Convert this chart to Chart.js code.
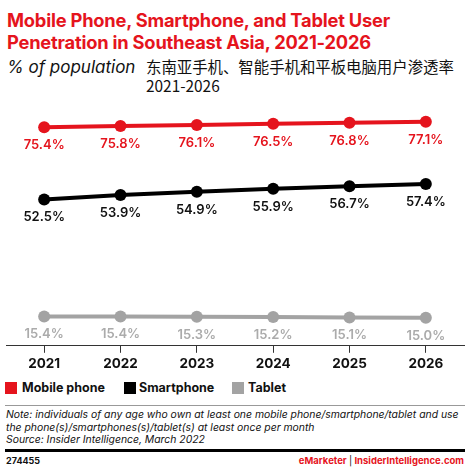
<!DOCTYPE html>
<html><head><meta charset="utf-8">
<script src="https://cdn.jsdelivr.net/npm/chart.js@4/dist/chart.umd.min.js"></script>
<style>
html,body{margin:0;padding:0;background:#fff;}
body{width:470px;height:471px;position:relative;overflow:hidden;font-family:Inter,"Noto Sans",sans-serif;}
.t{position:absolute;white-space:nowrap;}
#title{left:7px;top:9px;color:#e5141d;font-weight:700;font-size:18.3px;line-height:22px;letter-spacing:-0.2px;}
#sub{left:7px;top:57px;font-style:italic;font-size:17px;color:#111;}
#cn{left:146px;top:57px;font-family:"Noto Sans CJK SC",sans-serif;font-size:15.4px;line-height:19px;color:#111;}
#chartWrap{position:absolute;left:0;top:95px;width:470px;height:280px;}
.lg{position:absolute;top:382px;width:12px;height:12px;}
.lt{position:absolute;top:379.5px;font-size:12.5px;font-weight:700;color:#111;}
#hr1{position:absolute;left:5px;right:5px;top:405px;height:1px;background:#999;}
#note{left:6px;top:409px;font-style:italic;font-size:10.4px;line-height:12.6px;color:#111;}
#hr2{position:absolute;left:5px;right:5px;top:449px;height:3px;background:#000;}
#id{left:6px;top:455px;font-size:9px;font-weight:700;color:#111;}
#brand{right:6px;top:455px;font-size:9.5px;font-weight:700;color:#e5141d;}
</style></head>
<body>
<div class="t" id="title">Mobile Phone, Smartphone, and Tablet User<br>Penetration in Southeast Asia, 2021-2026</div>
<div class="t" id="sub">% of population</div>
<div class="t" id="cn">东南亚手机、智能手机和平板电脑用户渗透率<br>2021-2026</div>
<div id="chartWrap"><canvas id="c"></canvas></div>
<div class="lg" style="left:5px;background:#e5141d"></div><div class="t lt" style="left:22px">Mobile phone</div>
<div class="lg" style="left:124px;background:#000"></div><div class="t lt" style="left:139px">Smartphone</div>
<div class="lg" style="left:232px;background:#a3a3a3"></div><div class="t lt" style="left:248px">Tablet</div>
<div id="hr1"></div>
<div class="t" id="note">Note: individuals of any age who own at least one mobile phone/smartphone/tablet and use<br>the phone(s)/smartphones(s)/tablet(s) at least once per month<br>Source: Insider Intelligence, March 2022</div>
<div id="hr2"></div>
<div class="t" id="id">274455</div>
<div class="t" id="brand">eMarketer <span style="color:#111;font-weight:400">|</span> InsiderIntelligence.com</div>
<script>
const years = ["2021","2022","2023","2024","2025","2026"];
const mobilePhone = [75.4, 75.8, 76.1, 76.5, 76.8, 77.1];
const smartphone = [52.5, 53.9, 54.9, 55.9, 56.7, 57.4];
const tablet = [15.4, 15.4, 15.3, 15.2, 15.1, 15.0];

const RED = "#e5141d", BLACK = "#000000", GRAY = "#a3a3a3", GRAYTXT = "#ababab";

const labelPlugin = {
  id: "valLabels",
  afterDatasetsDraw(chart) {
    const ctx = chart.ctx;
    chart.data.datasets.forEach((ds, i) => {
      const meta = chart.getDatasetMeta(i);
      ctx.save();
      ctx.font = "600 13px Inter, sans-serif";
      ctx.fillStyle = ds.labelColor;
      ctx.textAlign = "center";
      ctx.textBaseline = "middle";
      meta.data.forEach((pt, j) => {
        ctx.fillText(ds.data[j].toFixed(1) + "%", pt.x, pt.y + 18);
      });
      ctx.restore();
    });
  }
};

new Chart(document.getElementById("c"), {
  type: "line",
  data: {
    labels: years,
    datasets: [
      {label:"Mobile phone", data: mobilePhone, borderColor: RED, backgroundColor: RED, labelColor: RED},
      {label:"Smartphone", data: smartphone, borderColor: BLACK, backgroundColor: BLACK, labelColor: "#111"},
      {label:"Tablet", data: tablet, borderColor: GRAY, backgroundColor: GRAY, labelColor: GRAYTXT}
    ]
  },
  options: {
    responsive: true,
    maintainAspectRatio: false,
    animation: false,
    layout: {padding: {left: 4.5, right: 3.5, top: 0, bottom: 0}},
    elements: {
      line: {borderWidth: 4, tension: 0},
      point: {radius: 6, hoverRadius: 6, borderWidth: 0}
    },
    plugins: {legend: {display: false}, tooltip: {enabled: false}},
    scales: {
      y: {display: false, min: 6.1, max: 83.7},
      x: {
        offset: true,
        border: {display: true, color: "#333", width: 1},
        grid: {display: true, drawOnChartArea: false, drawTicks: true, tickLength: 7, color: "#333", offset: false},
        ticks: {color: "#111", font: {family: "Inter, sans-serif", size: 13.5, weight: "700"}, padding: 3}
      }
    }
  },
  plugins: [labelPlugin]
});
</script>
</body></html>
